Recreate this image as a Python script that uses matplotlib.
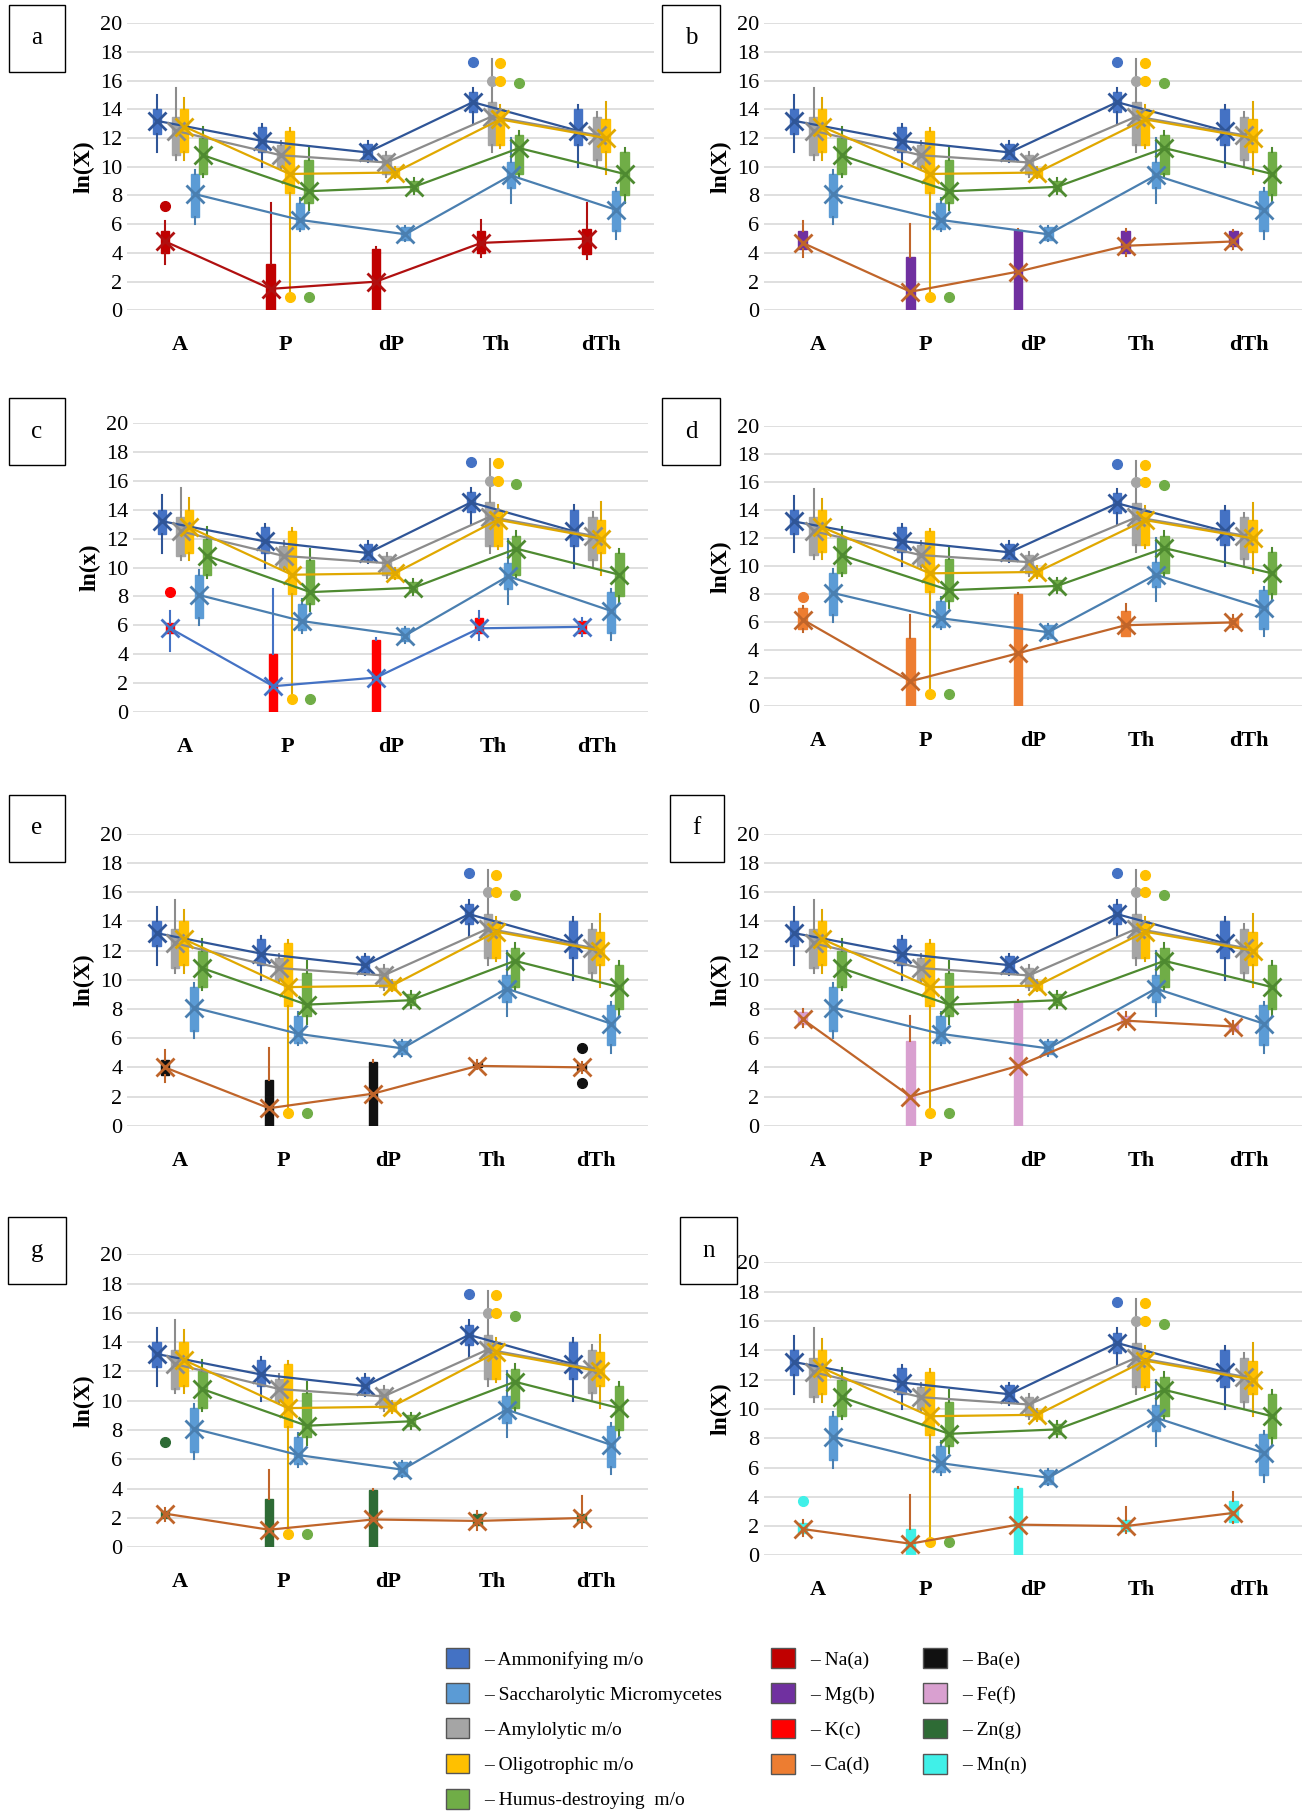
import matplotlib
matplotlib.use("Agg")
import matplotlib.pyplot as plt
from matplotlib.patches import Patch

plt.rcParams['font.family'] = ['Liberation Serif', 'DejaVu Serif']

categories = ["A", "P", "dP", "Th", "dTh"]

# microbe groups: mean, q1, q3, whisker low, whisker high, outliers per category
micro_names = ["Ammonifying m/o", "Saccharolytic Micromycetes", "Amylolytic m/o",
               "Oligotrophic m/o", "Humus-destroying  m/o"]
micro_colors = ["#4472C4", "#5B9BD5", "#A5A5A5", "#FFC000", "#70AD47"]
micro_line = ["#2F5597", "#4A7FB0", "#8C8C8C", "#E0A800", "#4E8A30"]
amm_mean = [13.2, 11.8, 11.0, 14.5, 12.5]
amm_q1 = [12.3, 11.0, 10.5, 13.8, 11.5]
amm_q3 = [14.0, 12.8, 11.6, 15.2, 14.0]
amm_lo = [11.0, 10.0, 10.3, 13.0, 10.0]
amm_hi = [15.0, 13.0, 11.8, 15.5, 14.3]
amm_out = [[], [], [], [17.3], []]
sac_mean = [8.1, 6.3, 5.3, 9.4, 7.0]
sac_q1 = [6.5, 5.7, 4.9, 8.5, 5.5]
sac_q3 = [9.5, 7.5, 5.8, 10.3, 8.3]
sac_lo = [6.0, 5.5, 4.8, 7.5, 5.0]
sac_hi = [9.8, 7.8, 5.9, 12.0, 8.5]
sac_out = [[], [], [], [], []]
amy_mean = [12.5, 10.8, 10.3, 13.5, 12.2]
amy_q1 = [10.8, 10.0, 9.5, 11.5, 10.5]
amy_q3 = [13.5, 11.5, 10.8, 14.5, 13.5]
amy_lo = [10.5, 9.8, 9.3, 11.0, 10.0]
amy_hi = [15.5, 11.8, 11.0, 17.5, 13.8]
amy_out = [[], [], [], [16.0], []]
oli_mean = [12.8, 9.5, 9.6, 13.3, 12.0]
oli_q1 = [11.0, 8.2, 9.3, 11.5, 11.0]
oli_q3 = [14.0, 12.5, 9.9, 14.0, 13.3]
oli_lo = [10.5, 0.8, 9.2, 11.3, 9.5]
oli_hi = [14.8, 12.7, 10.0, 14.3, 14.5]
oli_out = [[], [0.9], [], [16.0, 17.2], []]
hum_mean = [10.8, 8.3, 8.6, 11.3, 9.5]
hum_q1 = [9.5, 7.5, 8.3, 9.5, 8.0]
hum_q3 = [12.0, 10.5, 9.0, 12.2, 11.0]
hum_lo = [9.3, 7.0, 8.1, 9.3, 7.5]
hum_hi = [12.8, 11.3, 9.2, 12.5, 11.3]
hum_out = [[], [0.9], [], [15.8], []]

micro = [
    (amm_mean, amm_q1, amm_q3, amm_lo, amm_hi, amm_out),
    (sac_mean, sac_q1, sac_q3, sac_lo, sac_hi, sac_out),
    (amy_mean, amy_q1, amy_q3, amy_lo, amy_hi, amy_out),
    (oli_mean, oli_q1, oli_q3, oli_lo, oli_hi, oli_out),
    (hum_mean, hum_q1, hum_q3, hum_lo, hum_hi, hum_out),
]
micro_offsets = [-0.22, 0.14, -0.04, 0.04, 0.22]

# elements per panel
panel_letters = ["a", "b", "c", "d", "e", "f", "g", "n"]
panel_ylabels = ["ln(X)", "ln(X)", "ln(x)", "ln(X)", "ln(X)", "ln(X)", "ln(X)", "ln(X)"]
elem_names = ["Na(a)", "Mg(b)", "K(c)", "Ca(d)", "Ba(e)", "Fe(f)", "Zn(g)", "Mn(n)"]
elem_colors = ["#C00000", "#7030A0", "#FF0000", "#ED7D31", "#111111", "#D9A0D0", "#2E6B35", "#40F0E8"]
elem_lines = ["#B01010", "#C0652A", "#4472C4", "#C0652A", "#C0652A", "#C0652A", "#C0652A", "#C0652A"]
elem_mean = [[4.8, 1.5, 2.0, 4.7, 5.0], [4.7, 1.3, 2.7, 4.5, 4.8], [5.8, 1.8, 2.4, 5.8, 5.9],
             [6.2, 1.8, 3.8, 5.8, 6.0], [4.0, 1.2, 2.2, 4.1, 4.0], [7.3, 2.0, 4.1, 7.2, 6.8],
             [2.3, 1.2, 1.9, 1.8, 2.0], [1.8, 0.8, 2.1, 2.0, 2.9]]
elem_q1 = [[4.0, 0, 0, 4.0, 3.9], [4.3, 0, 0, 4.0, 4.5], [5.5, 0, 0, 5.5, 5.5],
           [5.5, 0, 0, 5.0, 5.7], [3.5, 0, 0, 4.0, 3.8], [7.0, 0, 0, 7.0, 6.5],
           [2.0, 0, 0, 1.5, 1.7], [1.5, 0, 0, 1.7, 2.3]]
elem_q3 = [[5.5, 3.2, 4.3, 5.5, 5.7], [5.5, 3.7, 5.6, 5.5, 5.5], [6.2, 4.0, 5.0, 6.5, 6.3],
           [7.0, 4.9, 8.0, 6.8, 6.3], [4.5, 3.1, 4.4, 4.3, 4.2], [7.8, 5.8, 8.5, 7.5, 7.0],
           [2.5, 3.3, 3.9, 2.3, 2.3], [2.2, 1.8, 4.6, 2.4, 3.7]]
elem_lo = [[3.2, 0, 0, 3.7, 3.6], [3.7, 0, 0, 3.8, 4.3], [4.2, 0, 0, 5.0, 5.3],
           [5.3, 0, 0, 5.0, 5.5], [3.0, 0, 0, 3.9, 3.6], [6.8, 0, 0, 6.8, 6.3],
           [1.8, 0, 0, 1.2, 1.3], [1.3, 0, 0, 1.5, 2.2]]
elem_hi = [[6.2, 7.5, 4.4, 6.3, 7.5], [6.2, 6.0, 5.7, 5.7, 5.6], [7.0, 8.5, 5.1, 7.0, 6.5],
           [7.2, 6.5, 8.1, 7.3, 6.5], [5.2, 5.3, 4.5, 4.5, 4.4], [8.0, 7.5, 8.6, 7.8, 7.2],
           [2.7, 5.3, 4.0, 2.5, 3.5], [2.4, 4.1, 4.7, 3.3, 4.3]]
elem_out = [[[7.3], [], [], [], []], [[], [], [], [], []], [[8.3], [], [], [], []],
            [[7.8], [], [], [], []], [[], [], [], [], [5.3, 2.9]], [[], [], [], [], []],
            [[7.2], [], [], [], []], [[3.7], [], [], [], []]]
elem_offset = -0.14

W, H = 1136.0, 1568.0
panel_px = [(110, 20, 565, 268), (660, 20, 1125, 268), (115, 365, 560, 615), (660, 368, 1125, 610),
            (110, 720, 560, 972), (660, 720, 1125, 972), (110, 1083, 560, 1336), (660, 1090, 1125, 1343)]
box_px = [(5, 8), (570, 8), (5, 348), (570, 348), (5, 690), (575, 690), (5, 1055), (585, 1055)]

fig = plt.figure(figsize=(13.15, 18.16), dpi=100)


def stats_list(mean, q1, q3, lo, hi, out):
    return [dict(med=mean[i], q1=q1[i], q3=q3[i], whislo=lo[i], whishi=hi[i],
                 mean=mean[i], fliers=out[i]) for i in range(len(mean))]


def draw_series(ax, stats, offs, color, lcolor, width=0.08):
    pos = [i + offs for i in range(len(categories))]
    ax.bxp(stats, positions=pos, widths=width, patch_artist=True, showmeans=False,
           manage_ticks=False,
           boxprops=dict(facecolor=color, edgecolor=color),
           medianprops=dict(color=color, linewidth=0),
           whiskerprops=dict(color=lcolor, linewidth=1.5),
           capprops=dict(linewidth=0),
           flierprops=dict(marker='o', markerfacecolor=color, markeredgecolor=color, markersize=7),
           zorder=3)
    ax.plot(pos, [s['mean'] for s in stats], color=lcolor, linewidth=1.6, zorder=4,
            marker='x', markersize=13, markeredgewidth=2)


for k in range(8):
    l, t, r, b = panel_px[k]
    ax = fig.add_axes([l / W, 1 - b / H, (r - l) / W, (b - t) / H])
    for j in range(5):
        draw_series(ax, stats_list(*micro[j]), micro_offsets[j], micro_colors[j], micro_line[j])
    es = stats_list(elem_mean[k], elem_q1[k], elem_q3[k], elem_lo[k], elem_hi[k], elem_out[k])
    draw_series(ax, es, elem_offset, elem_colors[k], elem_lines[k])
    ax.set_ylim(0, 20)
    ax.set_xlim(-0.5, 4.5)
    ax.set_yticks(range(0, 21, 2))
    ax.set_xticks(range(5))
    ax.set_xticklabels(categories, fontweight='bold', fontsize=16)
    ax.yaxis.grid(True, color="#D9D9D9", linewidth=1.2)
    ax.set_axisbelow(True)
    for s in ax.spines.values():
        s.set_visible(False)
    ax.tick_params(axis='both', length=0, labelsize=16)
    ax.tick_params(axis='x', pad=18)
    ax.set_ylabel(panel_ylabels[k], fontweight='bold', fontsize=17)
    bx, by = box_px[k]
    fig.text((bx + 27) / W, 1 - (by + 25) / H, panel_letters[k], fontsize=18, ha='center', va='center',
             bbox=dict(boxstyle='square,pad=0.9', facecolor='white', edgecolor='black'))

handles, labels = [], []
for j in range(5):
    handles.append(Patch(facecolor=micro_colors[j], edgecolor='#555555'))
    labels.append("– " + micro_names[j])
for k in range(8):
    handles.append(Patch(facecolor=elem_colors[k], edgecolor='#555555'))
    labels.append("– " + elem_names[k])
fig.legend(handles, labels, ncol=3, loc='upper center', bbox_to_anchor=(0.56, 1 - 1408 / H),
           frameon=False, fontsize=14, handlelength=1.2, handleheight=1.2, labelspacing=0.75,
           columnspacing=2.5)

fig.savefig("out.png", dpi=100, facecolor='white')
